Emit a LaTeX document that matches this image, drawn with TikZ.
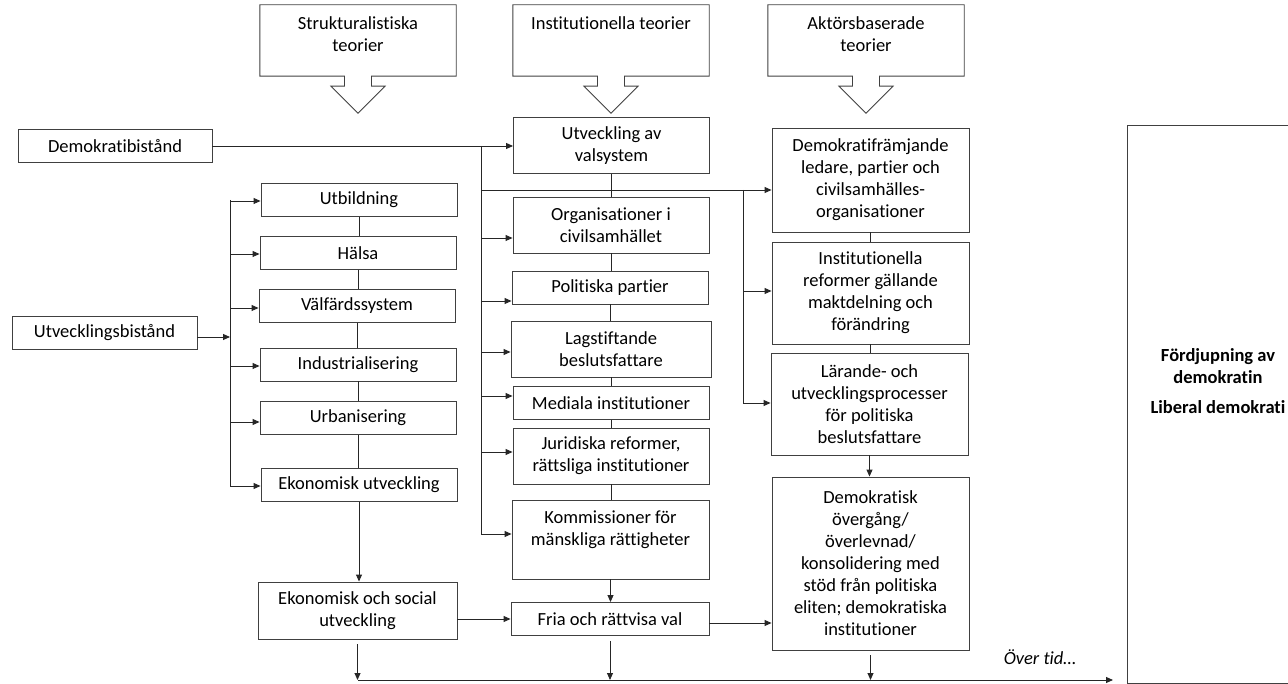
\documentclass[tikz,border=0pt]{standalone}
\usepackage{fontspec}
\setmainfont{Carlito}[Ligatures=NoCommon]
\usetikzlibrary{positioning,calc,arrows.meta}

\begin{document}
\begin{tikzpicture}[x=1pt,y=-1pt,
		txt/.style={font=\fontsize{18.5}{22}\selectfont},
		box/.style={txt, draw=black!75, line width=0.9pt, align=center, inner sep=2pt},
		smallbox/.style={box, minimum width=196pt, minimum height=33pt},
		midbox/.style={box, minimum width=196pt, minimum height=56pt},
		tallbox/.style={box, minimum width=197pt, minimum height=103pt},
		theory/.style={minimum width=196pt, minimum height=71pt, inner sep=0pt},
		theorytext/.style={txt, align=center, inner sep=0pt},
		boxline/.style={draw=black!75, line width=0.9pt},
		conn/.style={line width=0.9pt, black!85},
		>={Triangle[length=7pt,width=6pt]}]
		\useasboundingbox (0,0) rectangle (1288,684);
		\clip (0,0) rectangle (1288,684);

		%% Theory callouts
		\node[theory] (strukt) at (358,40.5) {};
		\node[theorytext, below=12pt of strukt.north] (strukt-txt) {Strukturalistiska\\teorier};
		\node[theory] (inst) at (611,40.5) {};
		\node[theorytext, below=12pt of inst.north] (inst-txt) {Institutionella teorier};
		\node[theory] (aktor) at (866,40.5) {};
		\node[theorytext, below=12pt of aktor.north] (aktor-txt) {Aktörsbaserade\\teorier};
		\foreach \t in {strukt,inst,aktor}
			\draw[boxline] (\t.north west) -- (\t.north east) -- (\t.south east)
			-- ($(\t.south)+(13.5,0)$) -- ++(0,10) -- ++(13.5,0) -- ($(\t.south)+(0,37)$)
			-- ++(-27,-27) -- ++(13.5,0) -- ++(0,-10) -- (\t.south west) -- cycle;

		%% Aid
		\node[smallbox, minimum width=194pt] (demobist) at (115,146) {Demokratibistånd};
		\node[smallbox, minimum width=185pt] (utvbist) at (104.5,332.5) {Utvecklingsbistånd};

		% Structural column
		\node[smallbox] (utbild) at (359,200) {Utbildning};
		\node[smallbox] (halsa) at (358,253) {Hälsa};
		\node[smallbox] (valfard) at (357,306) {Välfärdssystem};
		\node[smallbox] (indust) at (358,364.5) {Industrialisering};
		\node[smallbox] (urban) at (358,418) {Urbanisering};
		\node[smallbox] (ekutv) at (359,485) {Ekonomisk utveckling};
		\node[midbox, minimum width=199pt, minimum height=57pt] (eksoc) at (357.5,610.5) {Ekonomisk och social\\utveckling};

		% Institutional column
		\node[midbox] (valsys) at (611.5,145.5) {Utveckling av\\valsystem};
		\node[midbox] (org) at (611,225) {Organisationer i\\civilsamhället};
		\node[smallbox] (polit) at (610,287.5) {Politiska partier};
		\node[midbox, minimum width=200pt] (lag) at (611,349) {Lagstiftande\\beslutsfattare};
		\node[smallbox] (media) at (611,403) {Mediala institutioner};
		\node[midbox] (jurid) at (611,456) {Juridiska reformer,\\rättsliga institutioner};
		\node[midbox, minimum width=197pt, minimum height=79pt] (komm) at (610.5,539.5) {Kommissioner för\\mänskliga rättigheter\\\mbox{}};
		\node[smallbox, minimum width=198pt] (fria) at (610,619) {Fria och rättvisa val};

		% Actor column
		\node[tallbox, minimum height=104pt] (demofram) at (870.5,180) {Demokratifrämjande\\ledare, partier och\\civilsamhälles-\\organisationer};
		\node[tallbox, minimum height=102pt] (instref) at (870.5,293) {Institutionella\\reformer gällande\\maktdelning och\\förändring};
		\node[tallbox, minimum height=102pt] (larande) at (869.5,404) {Lärande- och\\utvecklingsprocesser\\för politiska\\beslutsfattare};
		\node[tallbox, minimum height=173pt] (demokr) at (870.5,563.5) {Demokratisk\\övergång/\\överlevnad/\\konsolidering med\\stöd från politiska\\eliten; demokratiska\\institutioner};

		% Outcome
		\node[boxline, minimum width=182pt, minimum height=558pt] (fordj) at (1218,404) {};
		\node[theorytext, font=\fontsize{18.5}{22}\selectfont\bfseries] (fordj-txt) at (1218,381) {Fördjupning av\\demokratin\\[8pt]Liberal demokrati};

		%% Buses
		\coordinate (leftbus) at (230,200);
		\coordinate (midbus) at (481,146);
		\coordinate (rightbus) at (481,190);
		\coordinate (actbus) at (743,190);

		\draw[conn,->] (demobist.east) -- (valsys.west |- demobist.east);
		\draw[conn] (midbus) -- (midbus |- 0,534);
		\foreach \n/\y in {org/238,polit/301,lag/352,media/396,jurid/452,komm/534}
			\draw[conn,->] (midbus |- 0,\y) -- (\n.west |- 0,\y);

		\draw[conn,->] (rightbus) -- (demofram.west |- rightbus);
		\draw[conn] (actbus) -- (actbus |- 0,403);
		\foreach \n/\y in {instref/291,larande/403}
			\draw[conn,->] (actbus |- 0,\y) -- (\n.west |- 0,\y);

		\draw[conn] (leftbus) -- (leftbus |- 0,486);
		\draw[conn,->] (utvbist.east |- 0,337) -- (leftbus |- 0,337);
		\foreach \n/\y in {utbild/201,halsa/254,valfard/308,indust/366,urban/422,ekutv/486}
			\draw[conn,->] (leftbus |- 0,\y) -- (\n.west |- 0,\y);

		% Chains
		\foreach \a/\b in {utbild/halsa,halsa/valfard,valfard/indust,indust/urban,urban/ekutv,valsys/org,org/polit,polit/lag,lag/media,media/jurid,jurid/komm,demofram/instref,instref/larande}
			\draw[conn] (\a.south) -- (\a.south |- \b.north);
		\draw[conn,->] (ekutv.south) -- (ekutv.south |- eksoc.north);
		\draw[conn,->] (komm.south) -- (komm.south |- fria.north);
		\draw[conn,->] (larande.south) -- (larande.south |- demokr.north);
		\draw[conn,->] (fria.west -| eksoc.east) -- (fria.west);
		\draw[conn,->] ([yshift=-4pt]fria.east) -- (demokr.west |- 0,623);

		%% Over time
		\coordinate (timeline) at (358,680);
		\coordinate (timeend) at (1113,680);
		\draw[conn,->] (timeline) -- (timeend);
		\foreach \n in {eksoc,fria,demokr}
			\draw[conn,->] ([yshift=-5pt]\n.south) -- (\n.south |- timeline);
		\node[txt, font=\fontsize{18.5}{22}\selectfont\itshape] (tid) at (1040,657) {Över tid…};
	\end{tikzpicture}
\end{document}
